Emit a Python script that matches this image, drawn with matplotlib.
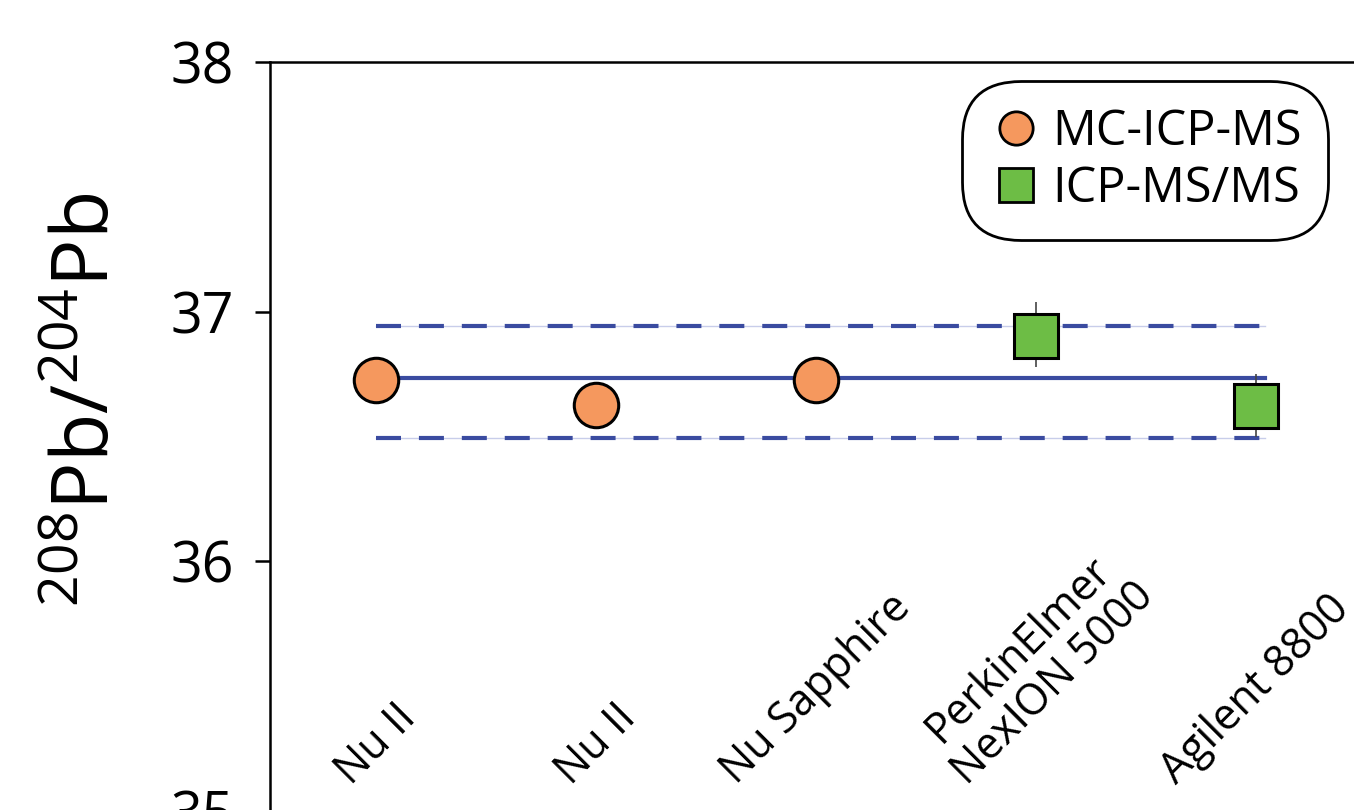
import numpy as np
import matplotlib.pyplot as plt
from matplotlib.lines import Line2D

plt.rcParams['font.family'] = ['Open Sans', 'DejaVu Sans']
plt.rcParams['mathtext.fontset'] = 'custom'
plt.rcParams['mathtext.rm'] = 'Open Sans'
plt.rcParams['mathtext.default'] = 'regular'

# data
instruments = ['Nu II', 'Nu II', 'Nu Sapphire', 'PerkinElmer\nNexION 5000', 'Agilent 8800']
mc_x = [0, 1, 2]
mc_y = [36.728, 36.628, 36.728]
qq_x = [3, 4]
qq_y = [36.904, 36.622]
qq_lo = [36.778, 36.496]
qq_hi = [37.04, 36.752]
mean_val = 36.733
band_lo = 36.495
band_hi = 36.941

orange = '#f5985e'
green = '#6dbd45'
blue = '#3a4ba0'

fig = plt.figure(figsize=(13.54, 8.10), dpi=100)
ax = fig.add_axes([0.1994, -0.0012, 0.8006, 0.9247])

# mean and +/- band
x0, x1 = 0, 4.04
ax.plot([x0, x1], [mean_val, mean_val], color=blue, lw=3, zorder=2)
for v in (band_lo, band_hi):
    ax.plot([x0, x1], [v, v], color='#c8cdea', lw=1.0, zorder=1)
    ax.plot([x0, x1], [v, v], color=blue, lw=3, dashes=(6, 4.3), zorder=2)

# error bars on ICP-MS/MS
qq_err = [np.array(qq_y) - np.array(qq_lo), np.array(qq_hi) - np.array(qq_y)]
ax.errorbar(qq_x, qq_y, yerr=qq_err, fmt='none', ecolor='#444444', elinewidth=1.2, capsize=0, zorder=3)

ax.plot(mc_x, mc_y, 'o', ms=32, mfc=orange, mec='black', mew=2.2, zorder=4)
ax.plot(qq_x, qq_y, 's', ms=31, mfc=green, mec='black', mew=2.2, zorder=4)

# category labels inside the axes
for i, name in enumerate(instruments):
    ax.text(i, 35.07, name, rotation=45, ha='center', va='bottom',
            fontsize=31, multialignment='center', linespacing=1.1)

ax.set_xlim(-0.482, 4.445)
ax.set_ylim(35, 38)
ax.set_yticks([35, 36, 37, 38])
ax.set_xticks([])
ax.tick_params(axis='y', labelsize=40, length=11, width=1.8, pad=15, direction='out')
ax.spines['right'].set_visible(False)
ax.spines['bottom'].set_visible(False)
ax.spines['left'].set_linewidth(1.8)
ax.spines['top'].set_linewidth(1.8)

ax.set_ylabel(r'$^{208}$Pb/$^{204}$Pb', fontsize=57)
ax.yaxis.set_label_coords(-0.131, 0.549)

handles = [
    Line2D([], [], marker='o', ls='none', ms=24, mfc=orange, mec='black', mew=2),
    Line2D([], [], marker='s', ls='none', ms=24, mfc=green, mec='black', mew=2),
]
leg = ax.legend(handles, ['MC-ICP-MS', 'ICP-MS/MS'], loc='upper right',
                bbox_to_anchor=(0.963, 0.955), fontsize=35, frameon=True,
                fancybox=True, handletextpad=0.2, borderpad=0.25,
                labelspacing=0.14, handlelength=1.1, borderaxespad=0)
leg.get_frame().set_edgecolor('black')
leg.get_frame().set_linewidth(2)
leg.get_frame().set_boxstyle('round', pad=0.3, rounding_size=1.2)
leg.get_frame().set_alpha(1)

fig.savefig('out.png', dpi=100)
